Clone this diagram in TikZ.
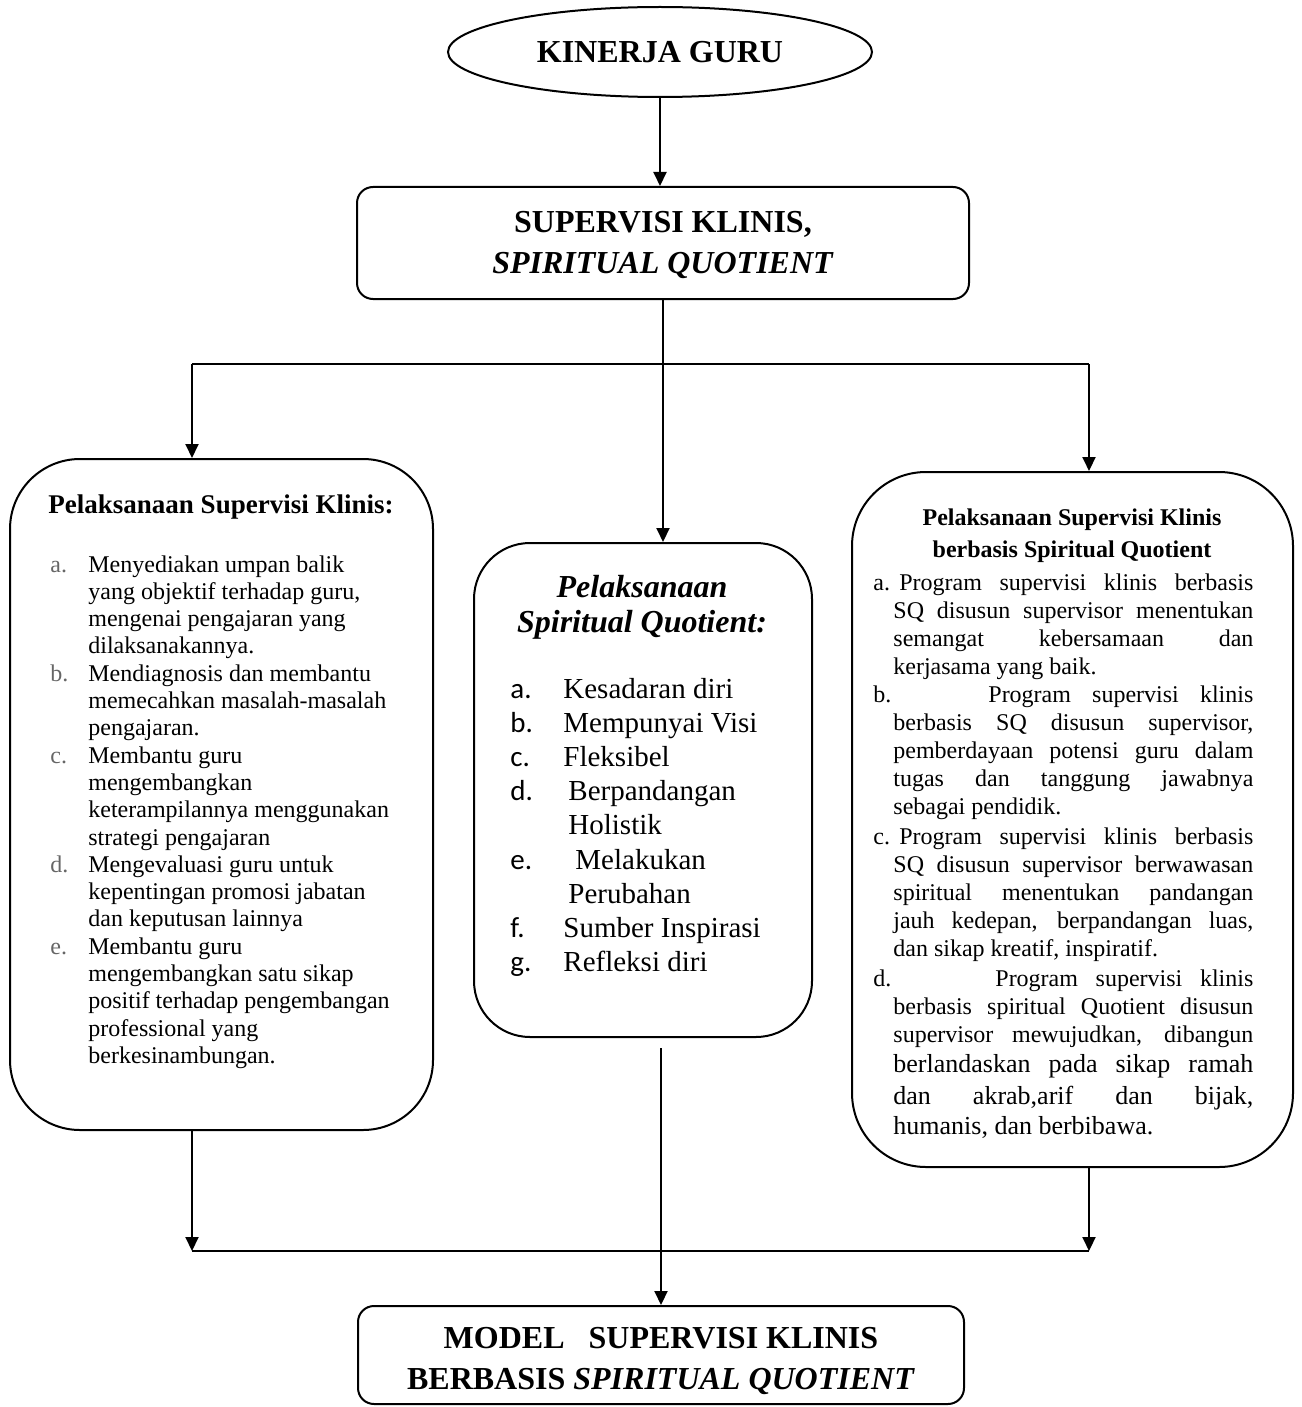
\documentclass[tikz,border=0pt]{standalone}
\usepackage{fontspec}
\setmainfont{Liberation Serif}
\newfontfamily\calibri{Carlito}
\usepackage{tikz}
\usetikzlibrary{shapes.geometric, arrows.meta, calc}
\definecolor{labelgray}{gray}{0.4}
\tikzset{
  box/.style={draw, line width=1pt, rounded corners=8pt, inner sep=0pt},
  panel/.style={draw, line width=1pt, inner sep=0pt},
  link/.style={line width=1pt, -{Triangle[length=7pt, width=6.5pt]}},
  wire/.style={line width=1pt},
  listtext/.style={anchor=base west, inner sep=0pt},
}
\newcommand{\lbl}[1]{\textcolor{labelgray}{#1}}
\newcommand{\jst}[1]{\hspace{10pt}\makebox[180pt][s]{#1}}

\begin{document}
\begin{tikzpicture}[x=0.5pt, y=-0.5pt]
  \useasboundingbox (0,0) rectangle (1301,1407);
  % top of the chart
  \node[ellipse, draw, line width=1pt, minimum width=212pt, minimum height=45pt,
        font=\fontsize{16}{19}\selectfont\bfseries] (kinerja) at (660,52) {KINERJA GURU};
  \node[box, minimum width=306pt, minimum height=56pt, align=center,
        font=\fontsize{16}{20.5}\selectfont\bfseries] (supervisi) at (663,243)
        {\rule{0pt}{13pt}SUPERVISI KLINIS,\\ \textit{SPIRITUAL QUOTIENT}};

  % three panels
  \node[panel, rounded corners=35pt, minimum width=211.5pt, minimum height=335.5pt] (klinis) at (221.5,794.5) {};
  \node[panel, rounded corners=28pt, minimum width=169pt, minimum height=247pt] (spiritual) at (643,790) {};
  \node[panel, rounded corners=37pt, minimum width=220.5pt, minimum height=347.5pt] (berbasis) at (1072.5,819.5) {};

  \node[box, minimum width=303pt, minimum height=49pt, align=center,
        font=\fontsize{16}{20.5}\selectfont\bfseries] (model) at (661,1355)
        {\rule{0pt}{16.6pt}MODEL\ \ \ SUPERVISI KLINIS\\ BERBASIS \textit{SPIRITUAL QUOTIENT}};

  % left panel text
  \node[font=\fontsize{13.5}{16}\selectfont\bfseries, anchor=base, inner sep=0pt] (klinisjudul) at (221,513)
        {Pelaksanaan Supervisi Klinis:};
  \node[listtext, font=\fontsize{12}{13.65}\selectfont] (klinisisi) at (50,572) {%
    \begin{tabular}[t]{@{}p{19pt}@{}l@{}}
      \lbl{a.} & Menyediakan umpan balik\\
               & yang objektif terhadap guru,\\
               & mengenai pengajaran yang\\
               & dilaksanakannya.\\
      \lbl{b.} & Mendiagnosis dan membantu\\
               & memecahkan masalah-masalah\\
               & pengajaran.\\
      \lbl{c.} & Membantu guru\\
               & mengembangkan\\
               & keterampilannya menggunakan\\
               & strategi pengajaran\\
      \lbl{d.} & Mengevaluasi guru untuk\\
               & kepentingan promosi jabatan\\
               & dan keputusan lainnya\\
      \lbl{e.} & Membantu guru\\
               & mengembangkan satu sikap\\
               & positif terhadap pengembangan\\
               & professional yang\\
               & berkesinambungan.
    \end{tabular}};

  % middle panel text
  \node[font=\fontsize{16}{17.5}\selectfont\bfseries\itshape, anchor=base, inner sep=0pt] (spiritualjudul) at (642,597)
        {\begin{tabular}[t]{@{}c@{}}Pelaksanaan\\ Spiritual Quotient:\end{tabular}};
  \node[listtext, font=\fontsize{14.5}{17.1}\selectfont] (spiritualisi) at (510,698) {%
    \begin{tabular}[t]{@{}p{26.5pt}@{}l@{}}
      {\calibri a.} & Kesadaran diri\\
      {\calibri b.} & Mempunyai Visi\\
      {\calibri c.} & Fleksibel\\
      {\calibri d.} & \hspace{2.5pt}Berpandangan\\
                    & \hspace{2.5pt}Holistik\\
      {\calibri e.} & \hspace{6pt}Melakukan\\
                    & \hspace{2.5pt}Perubahan\\
      {\calibri f.} & Sumber Inspirasi\\
      {\calibri g.} & Refleksi diri
    \end{tabular}};

  % right panel text
  \node[font=\fontsize{12}{16}\selectfont\bfseries, anchor=base, inner sep=0pt] (berbasisjudul) at (1072,525)
        {\begin{tabular}[t]{@{}c@{}}Pelaksanaan Supervisi Klinis\\ berbasis Spiritual Quotient\end{tabular}};
  \node[listtext, font=\fontsize{12}{14}\selectfont] (berbasisisi) at (873,590) {%
    \begin{tabular}[t]{@{}l@{}}
      \makebox[13pt][l]{a.}\makebox[177pt][s]{Program supervisi klinis berbasis}\\
      \jst{SQ disusun supervisor menentukan}\\
      \jst{semangat kebersamaan dan}\\
      \hspace{10pt}kerjasama yang baik.\\
      \makebox[57.5pt][l]{b.}\makebox[132.5pt][s]{Program supervisi klinis}\\
      \jst{berbasis SQ disusun supervisor,}\\
      \jst{pemberdayaan potensi guru dalam}\\
      \jst{tugas dan tanggung jawabnya}\\
      \hspace{10pt}sebagai pendidik.\\[1pt]
      \makebox[13pt][l]{c.}\makebox[177pt][s]{Program supervisi klinis berbasis}\\
      \jst{SQ disusun supervisor berwawasan}\\
      \jst{spiritual menentukan pandangan}\\
      \jst{jauh kedepan, berpandangan luas,}\\
      \hspace{10pt}dan sikap kreatif, inspiratif.\\[1pt]
      \makebox[61pt][l]{d.}\makebox[129pt][s]{Program supervisi klinis}\\
      \jst{berbasis spiritual Quotient disusun}\\
      \jst{supervisor mewujudkan, dibangun}\\[1pt]
      {\fontsize{13}{15}\selectfont\jst{berlandaskan pada sikap ramah}}\\[2pt]
      {\fontsize{13}{15}\selectfont\jst{dan akrab,arif dan bijak,}}\\[1pt]
      {\fontsize{13}{15}\selectfont\hspace{10pt}humanis, dan berbibawa.}
    \end{tabular}};

  % connectors
  \coordinate (cabangkiri) at (192,364);
  \coordinate (cabangkanan) at (1089,364);
  \coordinate (gabungkiri) at (192,1251);
  \coordinate (gabungkanan) at (1089,1251);

  \draw[link] (kinerja.south) -- (kinerja.south |- supervisi.north);
  \draw[link] (supervisi.south) -- (supervisi.south |- spiritual.north);
  \draw[wire] (cabangkiri) -- (cabangkanan);
  \draw[link] (cabangkiri) -- (cabangkiri |- klinis.north);
  \draw[link] (cabangkanan) -- (cabangkanan |- berbasis.north);
  \draw[link] (klinis.south -| gabungkiri) -- (gabungkiri);
  \draw[link] (berbasis.south -| gabungkanan) -- (gabungkanan);
  \draw[wire] (gabungkiri) -- (gabungkanan);
  \draw[link, shorten <=5pt] (spiritual.south -| model.north) -- (model.north);
\end{tikzpicture}
\end{document}
